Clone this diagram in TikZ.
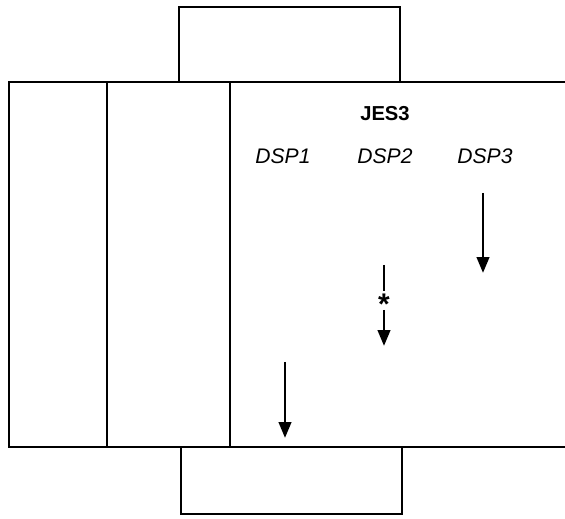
\documentclass[tikz,border=0pt]{standalone}
\usepackage{fontspec}
\setmainfont{Liberation Sans}
\usetikzlibrary{arrows.meta, positioning}

\begin{document}
\begin{tikzpicture}[
    x=0.02cm, y=-0.02cm,
    frameline/.style={draw=black, line width=1.6pt},
    titlenode/.style={font=\fontsize{11.5}{14}\selectfont\bfseries},
    dspnode/.style={font=\fontsize{12}{14}\selectfont\itshape},
    flow/.style={draw=black, line width=1.6pt, -{Triangle[length=9pt, width=7pt]}},
    dashflow/.style={draw=black, line width=1.6pt}
]
    \useasboundingbox (0,0) rectangle (565,519);

    % --- Main frame (open to the right) ---
    \draw[frameline] (565,82) -- (9,82) -- (9,447) -- (565,447);
    \draw[frameline] (107,82) -- (107,447);
    \draw[frameline] (230,82) -- (230,447);

    % --- Upper and lower boxes ---
    \draw[frameline] (179,82) -- (179,7) -- (400,7) -- (400,82);
    \draw[frameline] (181,447) -- (181,514) -- (402,514) -- (402,447);

    % --- Labels ---
    \node[titlenode] (jes) at (385,114) {JES3};
    \node[dspnode] (dsp1) at (283,156) {DSP1};
    \node[dspnode] (dsp2) at (385,156) {DSP2};
    \node[dspnode] (dsp3) at (485,156) {DSP3};

    % --- Arrows ---
    \coordinate (a3s) at (483,193);
    \coordinate (a3e) at (483,273);
    \draw[flow] (a3s) -- (a3e);

    \coordinate (a2s) at (384,265);
    \coordinate (a2m) at (384,291);
    \node[inner sep=0pt, font=\fontsize{17}{17}\selectfont\bfseries] (star) at (384,304) {*};
    \coordinate (a2n) at (384,310);
    \coordinate (a2e) at (384,346);
    \draw[dashflow] (a2s) -- (a2m);
    \draw[flow] (a2n) -- (a2e);

    \coordinate (a1s) at (285,362);
    \coordinate (a1e) at (285,438);
    \draw[flow] (a1s) -- (a1e);

\end{tikzpicture}
\end{document}
